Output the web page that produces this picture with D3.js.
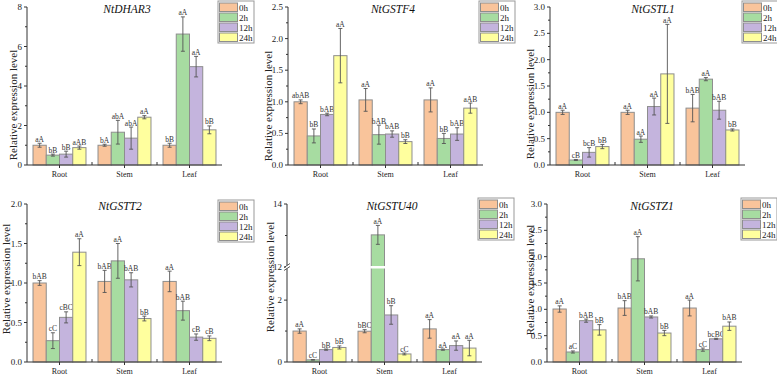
<!DOCTYPE html>
<html><head><meta charset="utf-8">
<script src="https://cdn.jsdelivr.net/npm/d3@7"></script>
<style>body{margin:0;background:#fff} svg{display:block}</style>
</head><body>
<svg id="c" width="777" height="375"></svg>
<script>
const categories = ["Root","Stem","Leaf"];
const timepoints = ["0h","2h","12h","24h"];
const colors = ["#F9C49B","#A7DCA1","#C4B4DD","#FFFF9E"];

const dhar3Mean = [[1.0,0.5,0.55,0.88],[1.0,1.66,1.36,2.42],[1.0,6.63,4.98,1.78]];
const dhar3Err  = [[0.1,0.05,0.15,0.08],[0.05,0.6,0.56,0.08],[0.1,0.87,0.52,0.2]];
const dhar3Sig  = [["aA","bB","bB","aAB"],["bA","abA","abA","aA"],["bB","aA","aA","bB"]];
const dhar3Ticks = [0,2,4,6,8];

const gstf4Mean = [[1.0,0.46,0.80,1.73],[1.03,0.48,0.49,0.37],[1.03,0.42,0.49,0.90]];
const gstf4Err  = [[0.03,0.11,0.02,0.43],[0.18,0.15,0.05,0.03],[0.19,0.08,0.10,0.08]];
const gstf4Sig  = [["abAB","bB","bAB","aA"],["aA","bAB","bAB","bB"],["aA","bB","bAB","aAB"]];
const gstf4Ticks = [0,0.5,1.0,1.5,2.0,2.5];

const gstl1Mean = [[1.0,0.095,0.24,0.35],[1.0,0.49,1.11,1.73],[1.08,1.63,1.04,0.665]];
const gstl1Err  = [[0.04,0.01,0.09,0.04],[0.04,0.06,0.16,0.94],[0.26,0.03,0.17,0.02]];
const gstl1Sig  = [["aA","cB","bcB","bB"],["aA","aA","aA","aA"],["bAB","aA","bAB","bB"]];
const gstl1Ticks = [0,0.5,1.0,1.5,2.0,2.5,3.0];

const gstt2Mean = [[1.0,0.27,0.565,1.39],[1.02,1.28,1.04,0.55],[1.02,0.65,0.315,0.30]];
const gstt2Err  = [[0.03,0.10,0.07,0.17],[0.14,0.22,0.09,0.03],[0.13,0.12,0.04,0.03]];
const gstt2Sig  = [["bAB","cC","cBC","aA"],["bAB","aA","bAB","bB"],["aA","bAB","cB","cB"]];
const gstt2Ticks = [0,0.5,1.0,1.5,2.0];

const gstu40Mean = [[1.0,0.07,0.40,0.47],[0.995,13.02,1.52,0.26],[1.07,0.40,0.53,0.45]];
const gstu40Err  = [[0.07,0.01,0.02,0.05],[0.05,0.30,0.30,0.03],[0.30,0.02,0.15,0.25]];
const gstu40Sig  = [["aA","cC","bB","bB"],["bBC","aA","bB","cC"],["aA","aA","aA","aA"]];
const gstu40Ticks = [0,2,12,14];

const gstz1Mean = [[1.006,0.19,0.785,0.61],[1.025,1.96,0.855,0.55],[1.025,0.235,0.44,0.68]];
const gstz1Err  = [[0.06,0.02,0.03,0.10],[0.14,0.42,0.02,0.05],[0.15,0.03,0.01,0.08]];
const gstz1Sig  = [["aA","aC","bAB","bB"],["bAB","aA","bAB","bB"],["aA","cC","bcBC","bAB"]];
const gstz1Ticks = [0,0.5,1.0,1.5,2.0,2.5,3.0];

const FONT = "'Liberation Serif','Times New Roman',serif";
const f1 = d3.format(".1f"), fi = d3.format("d");

const panels = [
  {gene:"NtDHAR3", mean:dhar3Mean, err:dhar3Err, sig:dhar3Sig, ticks:dhar3Ticks, fmt:fi,
   domain:[0,8], L:27, R:222, T:7, B:165, lx:218, ly:1, tx:127, ty:13, yx:13, yy:105},
  {gene:"NtGSTF4", mean:gstf4Mean, err:gstf4Err, sig:gstf4Sig, ticks:gstf4Ticks, fmt:f1,
   domain:[0,2.5], L:288, R:483, T:7, B:165, lx:479, ly:1, tx:393, ty:13, yx:268, yy:106},
  {gene:"NtGSTL1", mean:gstl1Mean, err:gstl1Err, sig:gstl1Sig, ticks:gstl1Ticks, fmt:f1,
   domain:[0,3], L:550, R:745, T:7, B:165, lx:742, ly:1, tx:653, ty:13, yx:530, yy:104},
  {gene:"NtGSTT2", mean:gstt2Mean, err:gstt2Err, sig:gstt2Sig, ticks:gstt2Ticks, fmt:f1,
   domain:[0,2], L:27, R:222, T:204, B:362, lx:218, ly:200, tx:120, ty:210, yx:6, yy:279},
  {gene:"NtGSTU40", mean:gstu40Mean, err:gstu40Err, sig:gstu40Sig, ticks:gstu40Ticks, fmt:fi,
   domain:[0,3.07,12,14], brk:true, L:287, R:482, T:204, B:362, BY:267, lx:478, ly:198, tx:392, ty:210, yx:270, yy:277},
  {gene:"NtGSTZ1", mean:gstz1Mean, err:gstz1Err, sig:gstz1Sig, ticks:gstz1Ticks, fmt:f1,
   domain:[0,3], L:547, R:742, T:204, B:362, lx:741, ly:198, tx:652, ty:210, yx:530, yy:280}
];

const svg = d3.select("#c");
const AX = "#333";

panels.forEach(p => {
  const g = svg.append("g");
  const x0 = d3.scaleBand().domain(categories).range([p.L, p.R]).paddingInner(0.185).paddingOuter(0.0925);
  const x1 = d3.scaleBand().domain(timepoints).range([0, x0.bandwidth()]);
  const y = p.brk
    ? d3.scaleLinear().domain(p.domain).range([p.B, p.BY, p.BY, p.T])
    : d3.scaleLinear().domain(p.domain).range([p.B, p.T]);

  // title (drawn first so labels sit on top)
  g.append("text").attr("x", p.tx).attr("y", p.ty).attr("text-anchor", "middle")
    .attr("font-family", FONT).attr("font-style", "italic").attr("font-size", 11.5).attr("fill", "#111").text(p.gene);

  // bars
  categories.forEach((c, ci) => {
    timepoints.forEach((t, ti) => {
      const m = p.mean[ci][ti], e = p.err[ci][ti];
      const bx = x0(c) + x1(t), bw = x1.bandwidth();
      g.append("rect").attr("x", bx).attr("y", y(m)).attr("width", bw).attr("height", y(0) - y(m))
        .attr("fill", colors[ti]).attr("stroke", "#8e8e8e").attr("stroke-width", 1);
      if (p.brk && m > p.domain[1]) {
        g.append("rect").attr("x", bx - 1).attr("y", p.BY - 1).attr("width", bw + 2).attr("height", 2.5).attr("fill", "#fff");
      }
      const cx = bx + bw / 2;
      const yt = y(m + e), yb = y(Math.max(0, m - e));
      g.append("line").attr("x1", cx).attr("x2", cx).attr("y1", yt).attr("y2", yb).attr("stroke", "#555").attr("stroke-width", 0.9);
      [yt, yb].forEach(yy => g.append("line").attr("x1", cx - 2).attr("x2", cx + 2).attr("y1", yy).attr("y2", yy).attr("stroke", "#555").attr("stroke-width", 0.9));
      g.append("text").attr("x", cx).attr("y", yt - 1.5).attr("text-anchor", "middle")
        .attr("font-family", FONT).attr("font-size", 7.5).attr("fill", "#333").text(p.sig[ci][ti]);
    });
  });

  // y axis
  g.append("line").attr("x1", p.L).attr("x2", p.L).attr("y1", p.B).attr("y2", p.T).attr("stroke", AX);
  p.ticks.forEach((t, i) => {
    g.append("line").attr("x1", p.L - 3).attr("x2", p.L).attr("y1", y(t)).attr("y2", y(t)).attr("stroke", AX);
    g.append("text").attr("x", p.L - 5).attr("y", y(t) + 3).attr("text-anchor", "end")
      .attr("font-family", FONT).attr("font-size", 9).attr("fill", "#222").text(p.fmt(t));
    if (i < p.ticks.length - 1) {
      const nx = p.ticks[i + 1];
      const spansBreak = p.brk && t < p.domain[1] && nx > p.domain[1];
      if (!spansBreak) {
        const mid = (t + nx) / 2;
        g.append("line").attr("x1", p.L - 2).attr("x2", p.L).attr("y1", y(mid)).attr("y2", y(mid)).attr("stroke", AX);
      }
    }
  });
  if (p.brk) {
    g.append("rect").attr("x", p.L - 1).attr("y", p.BY - 1.5).attr("width", 2).attr("height", 3).attr("fill", "#fff");
    [-1.5, 1.5].forEach(o => g.append("line").attr("x1", p.L - 3).attr("x2", p.L + 3)
      .attr("y1", p.BY + o + 2).attr("y2", p.BY + o - 2).attr("stroke", AX).attr("stroke-width", 0.8));
  }

  // x axis
  g.append("line").attr("x1", p.L).attr("x2", p.R).attr("y1", p.B).attr("y2", p.B).attr("stroke", AX);
  categories.forEach((c, ci) => {
    const cx = x0(c) + x0.bandwidth() / 2;
    g.append("line").attr("x1", cx).attr("x2", cx).attr("y1", p.B).attr("y2", p.B + 3).attr("stroke", AX);
    g.append("text").attr("x", cx).attr("y", p.B + 12).attr("text-anchor", "middle")
      .attr("font-family", FONT).attr("font-size", 8).attr("fill", "#222").text(c);
    if (ci > 0) {
      const bx = p.L + x0.step() * ci;
      g.append("line").attr("x1", bx).attr("x2", bx).attr("y1", p.B).attr("y2", p.B - 3).attr("stroke", AX);
    }
  });

  // y label
  g.append("text").attr("transform", `translate(${p.yx},${p.yy}) rotate(-90)`).attr("text-anchor", "middle")
    .attr("dy", "0.35em").attr("font-family", FONT).attr("font-size", 11).attr("fill", "#222").text("Relative expression level");

  // legend
  const lg = g.append("g").attr("transform", `translate(${p.lx},${p.ly})`);
  lg.append("rect").attr("x", 0).attr("y", 0).attr("width", 36).attr("height", 42).attr("fill", "#fff").attr("stroke", "#999");
  timepoints.forEach((t, i) => {
    lg.append("rect").attr("x", 1.5).attr("y", 2 + i * 10).attr("width", 18).attr("height", 8.5)
      .attr("fill", colors[i]).attr("stroke", "#8e8e8e");
    lg.append("text").attr("x", 21).attr("y", 9.5 + i * 10).attr("font-family", FONT).attr("font-size", 9).attr("fill", "#222").text(t);
  });
});
</script>
</body></html>
